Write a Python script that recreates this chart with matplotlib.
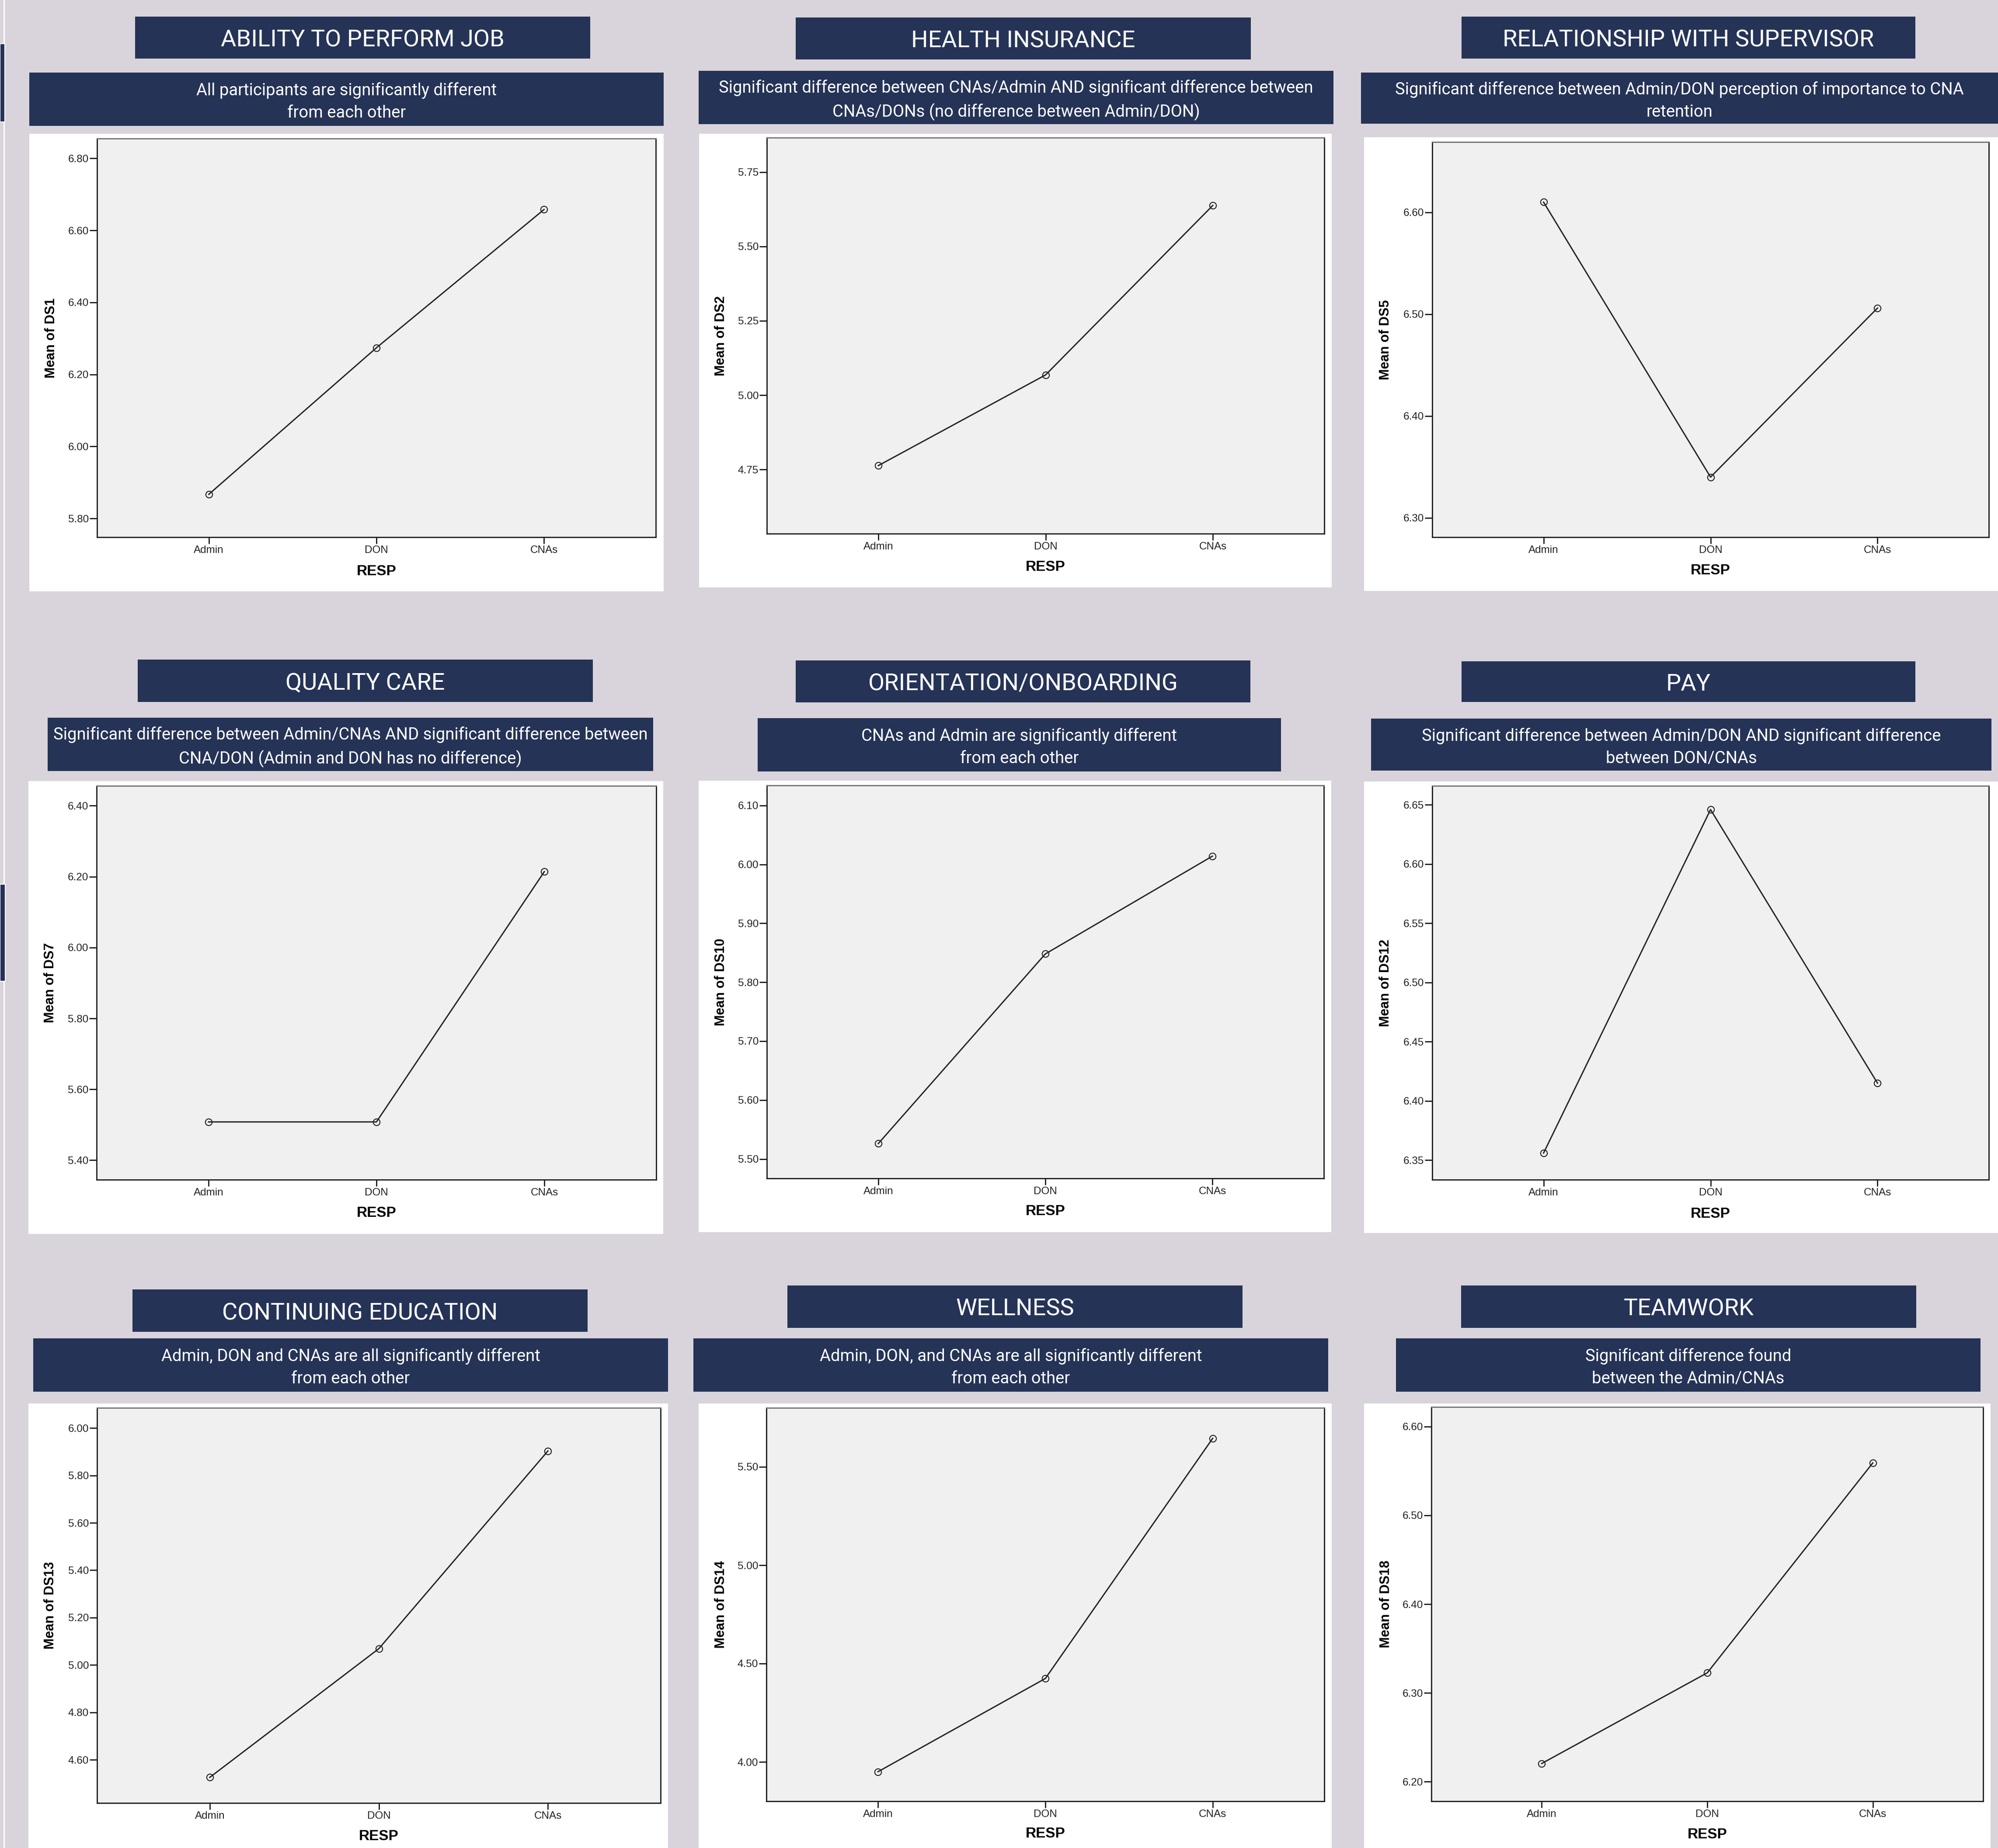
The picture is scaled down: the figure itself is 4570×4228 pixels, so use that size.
import numpy as np
import matplotlib.pyplot as plt
from matplotlib.patches import Rectangle

"""
SPSS MEANS PLOTS - NINE RETENTION FACTORS BY RESPONDENT GROUP
"""

W, H = 4570, 4228  # output size in pixels
DPI = 100

BG = "#d9d4db"
NAVY = "#253356"
PLOT_BG = "#f0f0f0"
LINE = "#262626"
HEAD = ["Roboto", "Liberation Sans", "DejaVu Sans"]
ARIAL = ["Liberation Sans", "DejaVu Sans"]

# DATA
groups = ["Admin", "DON", "CNAs"]

titles = [
    "ABILITY TO PERFORM JOB", "HEALTH INSURANCE", "RELATIONSHIP WITH SUPERVISOR",
    "QUALITY CARE", "ORIENTATION/ONBOARDING", "PAY",
    "CONTINUING EDUCATION", "WELLNESS", "TEAMWORK",
]
subtitles = [
    "All participants are significantly different\nfrom each other",
    "Significant difference between CNAs/Admin AND significant difference between\n"
    "CNAs/DONs (no difference between Admin/DON)",
    "Significant difference between Admin/DON perception of importance to CNA\nretention",
    "Significant difference between Admin/CNAs AND significant difference between\n"
    "CNA/DON (Admin and DON has no difference)",
    "CNAs and Admin are significantly different\nfrom each other",
    "Significant difference between Admin/DON AND significant difference\nbetween DON/CNAs",
    "Admin, DON and CNAs are all significantly different\nfrom each other",
    "Admin, DON, and CNAs are all significantly different\nfrom each other",
    "Significant difference found\nbetween the Admin/CNAs",
]
ylabels = ["Mean of DS1", "Mean of DS2", "Mean of DS5",
           "Mean of DS7", "Mean of DS10", "Mean of DS12",
           "Mean of DS13", "Mean of DS14", "Mean of DS18"]

ds1 = [5.867, 6.274, 6.658]
ds2 = [4.763, 5.068, 5.638]
ds5 = [6.610, 6.340, 6.506]
ds7 = [5.508, 5.508, 6.214]
ds10 = [5.526, 5.848, 6.014]
ds12 = [6.356, 6.646, 6.415]
ds13 = [4.526, 5.069, 5.903]
ds14 = [3.950, 4.424, 5.645]
ds18 = [6.2205, 6.3226, 6.559]
series = [ds1, ds2, ds5, ds7, ds10, ds12, ds13, ds14, ds18]

yticks = [
    np.arange(5.80, 6.81, 0.20), np.arange(4.75, 5.76, 0.25), np.arange(6.30, 6.61, 0.10),
    np.arange(5.40, 6.41, 0.20), np.arange(5.50, 6.11, 0.10), np.arange(6.35, 6.66, 0.05),
    np.arange(4.60, 6.01, 0.20), np.arange(4.00, 5.51, 0.50), np.arange(6.20, 6.61, 0.10),
]
ylims = [(5.748, 6.855), (4.534, 5.866), (6.281, 6.669),
         (5.345, 6.456), (5.467, 6.134), (6.3335, 6.666),
         (4.418, 6.085), (3.80, 5.80), (6.178, 6.622)]

# LAYOUT (pixel boxes x0, y0, x1, y1 measured from top-left)
title_boxes = [(309, 38, 1350, 134), (1820, 40, 2861, 136), (3343, 38, 4381, 134),
               (315, 1509, 1356, 1606), (1820, 1511, 2860, 1607), (3343, 1513, 4381, 1606),
               (303, 2950, 1344, 3047), (1801, 2941, 2842, 3038), (3342, 2941, 4383, 3038)]
sub_boxes = [(67, 166, 1518, 288), (1598, 162, 3050, 284), (3113, 166, 4570, 283),
             (109, 1642, 1494, 1764), (1733, 1643, 2930, 1765), (3136, 1644, 4555, 1763),
             (76, 3062, 1528, 3184), (1586, 3062, 3038, 3184), (3193, 3062, 4530, 3184)]
white_boxes = [(67, 306, 1518, 1353), (1599, 306, 3046, 1344), (3120, 314, 4570, 1352),
               (65, 1787, 1517, 2823), (1598, 1786, 3045, 2819), (3120, 1788, 4570, 2821),
               (65, 3211, 1528, 4228), (1598, 3211, 3046, 4228), (3120, 3211, 4553, 4228)]
axes_boxes = [(222, 317, 1500, 1229), (1754, 315, 3029, 1221), (3276, 325, 4549, 1229),
              (221, 1798, 1501, 2699), (1754, 1797, 3028, 2696), (3276, 1798, 4549, 2699),
              (222, 3221, 1511, 4125), (1753, 3221, 3029, 4121), (3274, 3219, 4536, 4121)]
ylabel_x = [117, 1649, 3169, 115, 1649, 3169, 115, 1649, 3170]
xlabel_y = [1307, 1297, 1306, 2776, 2771, 2777, 4202, 4196, 4198]


def fig_rect(box):
    x0, y0, x1, y1 = box
    return [x0 / W, 1 - y1 / H, (x1 - x0) / W, (y1 - y0) / H]


fig = plt.figure(figsize=(W / DPI, H / DPI), dpi=DPI, facecolor=BG)

# background layer in pixel coordinates
bg = fig.add_axes([0, 0, 1, 1])
bg.set_xlim(0, W)
bg.set_ylim(H, 0)
bg.axis("off")

# left edge decorations
bg.add_patch(Rectangle((8, 0), 3, H, color="white", lw=0))
bg.add_patch(Rectangle((0, 100), 11, 179, facecolor=NAVY, edgecolor="white", lw=1.5))
bg.add_patch(Rectangle((0, 2023), 12, 222, facecolor=NAVY, edgecolor="white", lw=1.5))

for i in range(9):
    x0, y0, x1, y1 = title_boxes[i]
    bg.add_patch(Rectangle((x0, y0), x1 - x0, y1 - y0, color=NAVY, lw=0))
    bg.text((x0 + x1) / 2, (y0 + y1) / 2 + 6, titles[i], ha="center", va="center",
            color="white", fontsize=39, family=HEAD)

    x0, y0, x1, y1 = sub_boxes[i]
    bg.add_patch(Rectangle((x0, y0), x1 - x0, y1 - y0, color=NAVY, lw=0))
    bg.text((x0 + x1) / 2, (y0 + y1) / 2 + 6, subtitles[i], ha="center", va="center",
            color="white", fontsize=27.5, family=HEAD, linespacing=1.48)

    x0, y0, x1, y1 = white_boxes[i]
    bg.add_patch(Rectangle((x0, y0), x1 - x0, y1 - y0, color="white", lw=0))

# MEANS PLOTS
for i in range(9):
    ax = fig.add_axes(fig_rect(axes_boxes[i]))
    ax.set_facecolor(PLOT_BG)
    ax.plot(range(len(groups)), series[i], color=LINE, lw=2.2, marker="o",
            ms=11, mfc="none", mec=LINE, mew=1.6)
    ax.set_xlim(-2 / 3, 2 + 2 / 3)
    ax.set_ylim(*ylims[i])
    ax.set_xticks(range(len(groups)))
    ax.set_xticklabels(groups, family=ARIAL, fontsize=17.5, color="#222222")
    ax.set_yticks(yticks[i])
    ax.set_yticklabels([f"{v:.2f}" for v in yticks[i]], family=ARIAL, fontsize=17.5,
                       color="#222222")
    ax.tick_params(axis="y", direction="out", length=12.5, width=1.8, pad=1)
    ax.tick_params(axis="x", direction="out", length=11, width=1.8, pad=3)
    for side in ["left", "bottom", "right"]:
        ax.spines[side].set_linewidth(2.0)
        ax.spines[side].set_color("#1a1a1a")
    ax.spines["top"].set_linewidth(2.0)
    ax.spines["top"].set_color("#707070")

    bx0, by0, bx1, by1 = axes_boxes[i]
    ax.set_ylabel(ylabels[i], family=ARIAL, fontsize=22, fontweight="bold")
    ax.yaxis.label.set_va("center")
    ax.yaxis.set_label_coords((ylabel_x[i] - bx0) / (bx1 - bx0), 0.5)
    ax.set_xlabel("RESP", family=ARIAL, fontsize=24, fontweight="bold")
    ax.xaxis.label.set_va("center")
    ax.xaxis.set_label_coords(0.5, (by1 - xlabel_y[i]) / (by1 - by0))

plt.savefig("out.png", dpi=DPI, facecolor=BG)
